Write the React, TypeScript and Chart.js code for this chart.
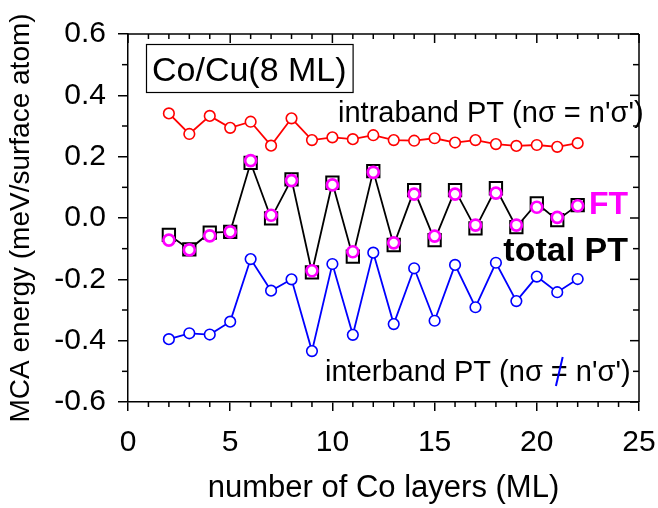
import React, { useEffect, useRef } from 'react';
import { Chart, registerables } from 'chart.js';

Chart.register(...registerables);

const layers = [2, 3, 4, 5, 6, 7, 8, 9, 10, 11, 12, 13, 14, 15, 16, 17, 18, 19, 20, 21, 22];
const intraband = [0.341, 0.274, 0.333, 0.294, 0.314, 0.236, 0.325, 0.254, 0.263, 0.257, 0.270, 0.254, 0.252, 0.260, 0.246, 0.254, 0.241, 0.235, 0.238, 0.232, 0.244];
const totalPT = [-0.055, -0.102, -0.048, -0.045, 0.180, -0.001, 0.126, -0.177, 0.115, -0.126, 0.153, -0.088, 0.091, -0.072, 0.091, -0.034, 0.097, -0.030, 0.048, -0.007, 0.042];
const ftValues = [-0.072, -0.104, -0.058, -0.045, 0.187, 0.009, 0.122, -0.172, 0.108, -0.110, 0.149, -0.081, 0.078, -0.059, 0.078, -0.023, 0.081, -0.023, 0.035, 0.002, 0.040];
const interband = [-0.395, -0.376, -0.380, -0.338, -0.134, -0.237, -0.200, -0.434, -0.150, -0.381, -0.113, -0.346, -0.164, -0.335, -0.153, -0.291, -0.146, -0.271, -0.191, -0.242, -0.199];

const xTickValues = [0, 5, 10, 15, 20, 25];
const yTickValues = [-0.6, -0.4, -0.2, 0.0, 0.2, 0.4, 0.6];
const xMinorStep = 1;
const yMinorStep = 0.1;

const FONT = "'Liberation Sans', Arial, Helvetica, sans-serif";

const pts = (ys: number[]) => layers.map((x, i) => ({ x, y: ys[i] }));

const decorPlugin = {
  id: 'decor',
  afterDraw(chart: any) {
    const { ctx, chartArea: a, scales } = chart;
    const x = scales.x;
    const y = scales.y;
    ctx.save();
    ctx.strokeStyle = '#000';
    ctx.lineWidth = 1.5;
    const line = (x1: number, y1: number, x2: number, y2: number) => {
      ctx.beginPath();
      ctx.moveTo(x1, y1);
      ctx.lineTo(x2, y2);
      ctx.stroke();
    };
    // frame top & right
    line(a.left, a.top, a.right, a.top);
    line(a.right, a.top, a.right, a.bottom);
    // x ticks
    for (let v = x.min; v <= x.max + 1e-9; v += xMinorStep) {
      const px = x.getPixelForValue(v);
      const major = xTickValues.some((t) => Math.abs(t - v) < 1e-6);
      if (!major) line(px, a.bottom, px, a.bottom + 5);
      line(px, a.top, px, a.top + (major ? 9 : 5));
    }
    // y ticks
    const n = Math.round((y.max - y.min) / yMinorStep);
    for (let i = 0; i <= n; i++) {
      const v = y.min + i * yMinorStep;
      const py = y.getPixelForValue(v);
      const major = yTickValues.some((t) => Math.abs(t - v) < 1e-6);
      if (!major) line(a.left - 6, py, a.left, py);
      line(a.right - (major ? 9 : 6), py, a.right, py);
    }

    // annotations
    ctx.textBaseline = 'alphabetic';
    ctx.fillStyle = '#000';
    // box label
    ctx.font = `34px ${FONT}`;
    ctx.textAlign = 'left';
    const boxText = 'Co/Cu(8 ML)';
    const tw = ctx.measureText(boxText).width;
    ctx.lineWidth = 1.2;
    ctx.strokeRect(146.5, 44.5, tw + 12, 48);
    ctx.fillText(boxText, 152, 81);

    ctx.font = `29px ${FONT}`;
    ctx.fillText("intraband PT (n\u03C3 = n'\u03C3')", 338, 122);

    ctx.font = `bold 32px ${FONT}`;
    ctx.fillStyle = '#ff00ff';
    ctx.textAlign = 'right';
    ctx.fillText('FT', 628, 214);

    ctx.font = `bold 34px ${FONT}`;
    ctx.fillStyle = '#000';
    ctx.fillText('total PT', 628, 261);

    // interband text with blue slash over "="
    ctx.font = `29px ${FONT}`;
    ctx.textAlign = 'left';
    const p1 = 'interband PT (n\u03C3 ';
    const p2 = '=';
    const p3 = " n'\u03C3')";
    let cx = 325;
    ctx.fillText(p1, cx, 381);
    cx += ctx.measureText(p1).width;
    ctx.fillText(p2, cx, 381);
    const w2 = ctx.measureText(p2).width;
    ctx.strokeStyle = '#0000ff';
    ctx.lineWidth = 2;
    line(cx + w2 * 0.3, 386, cx + w2 * 0.7, 357);
    cx += w2;
    ctx.fillText(p3, cx, 381);
    ctx.restore();
  },
};

export default function App() {
  const ref = useRef<HTMLCanvasElement>(null);
  useEffect(() => {
    if (!ref.current) return;
    const chart = new Chart(ref.current, {
      type: 'line',
      data: {
        datasets: [
          {
            label: 'FT',
            data: pts(ftValues),
            showLine: false,
            borderColor: '#ff00ff',
            backgroundColor: '#ffffff',
            pointBackgroundColor: '#ffffff',
            pointBorderColor: '#ff00ff',
            pointBorderWidth: 2.7,
            pointRadius: 5.5,
          },
          {
            label: 'total PT',
            data: pts(totalPT),
            borderColor: '#000000',
            borderWidth: 1.8,
            pointStyle: 'rect',
            pointRadius: 8.7,
            pointBorderWidth: 2,
            pointBackgroundColor: '#ffffff',
            pointBorderColor: '#000000',
          },
          {
            label: 'intraband PT',
            data: pts(intraband),
            borderColor: '#ff0000',
            borderWidth: 1.8,
            pointRadius: 5.3,
            pointBorderWidth: 1.6,
            pointBackgroundColor: '#ffffff',
            pointBorderColor: '#ff0000',
          },
          {
            label: 'interband PT',
            data: pts(interband),
            borderColor: '#0000ff',
            borderWidth: 1.8,
            pointRadius: 5.3,
            pointBorderWidth: 1.6,
            pointBackgroundColor: '#ffffff',
            pointBorderColor: '#0000ff',
          },
        ],
      },
      options: {
        responsive: false,
        animation: false,
        devicePixelRatio: 1,
        layout: { padding: { top: 34, right: 19, left: 0, bottom: 0 } },
        plugins: { legend: { display: false }, tooltip: { enabled: false } },
        scales: {
          x: {
            type: 'linear',
            min: 0,
            max: 25,
            afterBuildTicks: (s: any) => {
              s.ticks = xTickValues.map((v) => ({ value: v }));
            },
            afterFit: (s: any) => {
              s.height = 106;
              s.paddingLeft = 0;
              s.paddingRight = 0;
            },
            ticks: {
              font: { family: FONT, size: 30 },
              color: '#000',
              padding: 14,
              maxRotation: 0,
              callback: (v: any) => String(v),
            },
            grid: { drawOnChartArea: false, drawTicks: true, tickLength: 9, color: '#000', lineWidth: 1.5 },
            border: { display: true, color: '#000', width: 1.5 },
            title: {
              display: true,
              text: 'number of Co layers (ML)',
              font: { family: FONT, size: 31 },
              color: '#000',
              padding: { top: 0, bottom: 1 },
            },
          },
          y: {
            type: 'linear',
            min: -0.6,
            max: 0.6,
            afterBuildTicks: (s: any) => {
              s.ticks = yTickValues.map((v) => ({ value: v }));
            },
            afterFit: (s: any) => {
              s.width = 128;
              s.paddingTop = 0;
              s.paddingBottom = 0;
            },
            ticks: {
              font: { family: FONT, size: 30 },
              color: '#000',
              padding: 12,
              callback: (v: any) => Number(v).toFixed(1),
            },
            grid: { drawOnChartArea: false, drawTicks: true, tickLength: 10, color: '#000', lineWidth: 1.5 },
            border: { display: true, color: '#000', width: 1.5 },
            title: {
              display: true,
              text: 'MCA energy (meV/surface atom)',
              font: { family: FONT, size: 28 },
              color: '#000',
              padding: { top: 4, bottom: 0 },
            },
          },
        },
      },
      plugins: [decorPlugin],
    });
    return () => chart.destroy();
  }, []);
  return (
    <div style={{ position: 'absolute', left: 0, top: 0, width: 658, height: 508, background: '#fff' }}>
      <canvas ref={ref} width={658} height={508} style={{ display: 'block' }} />
    </div>
  );
}
